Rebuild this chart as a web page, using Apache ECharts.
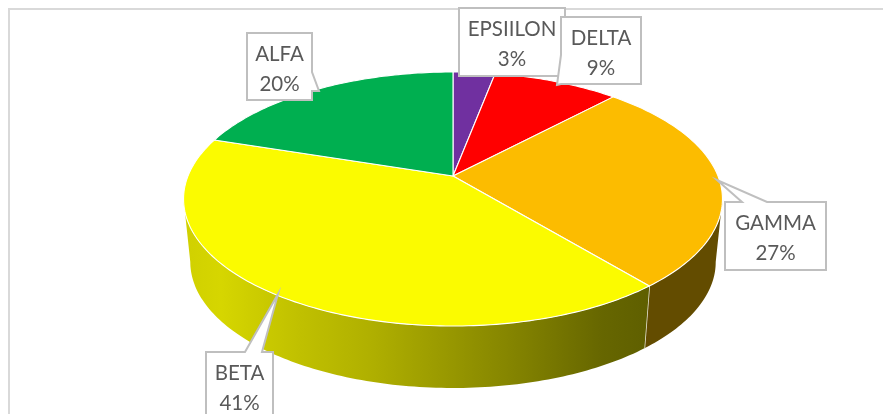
<!DOCTYPE html>
<html>
<head>
<meta charset="utf-8">
<style>html,body{margin:0;padding:0;background:#fff}#c{width:883px;height:414px}</style>
<script src="https://cdn.jsdelivr.net/npm/echarts@6/dist/echarts.min.js"></script>
</head>
<body>
<div id="c"></div>
<script>
var categories = ['EPSIILON', 'DELTA', 'GAMMA', 'BETA', 'ALFA'];
var percentages = [3, 9, 27, 41, 20];
var sliceColors = ['#7030A0', '#FF0000', '#FCBC00', '#FBFB00', '#00AF50'];

// Label boxes [left, top, right, bottom] and callouts [tipX, tipY, baseX1, baseY1, baseX2, baseY2]
var labelBoxes = [[459, 8, 565, 76], [561, 17, 641, 84], [725, 202, 826, 270], [206, 352, 273, 420], [247, 33, 312, 100]];
var callouts = [null, [557, 85, 561, 55, 561, 84], [717, 180, 742, 202, 767, 202], [278, 294, 245, 352, 262, 352], [319, 91, 312, 72, 312, 91]];

var total = percentages.reduce(function (a, b) { return a + b; }, 0);
var starts = [], run = 0;
percentages.forEach(function (p) { starts.push(run); run += p; });

// Perspective projection of the pie's circle to the screen
var CX = 453, K = -0.181, A = 91, B = 176, D = 265;
function topPt(deg) {
  var r = deg * Math.PI / 180, u = Math.sin(r), v = -Math.cos(r), w = 1 + K * v;
  return [CX + D * u / w, (A * v + B) / w];
}
function bottomPt(deg) {
  var p = topPt(deg);
  return [CX + (p[0] - CX) * 0.975, 262 + (p[1] - 199) * 0.992];
}
function arc(fn, a, b) {
  var pts = [], n = Math.max(2, Math.ceil(Math.abs(b - a)));
  for (var i = 0; i <= n; i++) pts.push(fn(a + (b - a) * i / n));
  return pts;
}
var FRONT_A = 100.4, FRONT_B = 259.6;

var sideFills = [
  null, null, '#634C00',
  new echarts.graphic.LinearGradient(1, 0, 0, 0, [
    { offset: 0, color: '#5F5F00' },
    { offset: 0.1, color: '#666600' },
    { offset: 0.3, color: '#858500' },
    { offset: 0.6, color: '#B0B000' },
    { offset: 0.75, color: '#C0C000' },
    { offset: 0.92, color: '#D6D600' },
    { offset: 1, color: '#D0D000' }
  ]),
  null
];

function renderSide(params) {
  var i = params.dataIndex;
  var a = starts[i] / total * 360, b = (starts[i] + percentages[i]) / total * 360;
  var s = Math.max(a, FRONT_A), e = Math.min(b, FRONT_B);
  if (s >= e) return { type: 'group', children: [] };
  var pts = arc(topPt, s, e).concat(arc(bottomPt, e, s));
  var children = [{ type: 'polygon', shape: { points: pts }, style: { fill: sideFills[i], stroke: 'none' } }];
  if (b < FRONT_B) {
    children.push({ type: 'line', shape: { x1: topPt(b)[0], y1: topPt(b)[1], x2: bottomPt(b)[0], y2: bottomPt(b)[1] },
      style: { stroke: '#E8E8DC', lineWidth: 1.5 } });
  }
  return { type: 'group', children: children };
}
function renderTop(params) {
  var i = params.dataIndex;
  var a = starts[i] / total * 360, b = (starts[i] + percentages[i]) / total * 360;
  var pts = [[CX, B]].concat(arc(topPt, a, b));
  return { type: 'polygon', shape: { points: pts },
    style: { fill: sliceColors[i], stroke: '#FFFFFF', lineWidth: 1.1, lineJoin: 'round' } };
}
function renderLabel(params) {
  var i = params.dataIndex, bx = labelBoxes[i], c = callouts[i];
  var pts;
  if (!c) {
    pts = [[bx[0], bx[1]], [bx[2], bx[1]], [bx[2], bx[3]], [bx[0], bx[3]]];
  } else if (c[3] === bx[1]) { // callout from the top edge
    pts = [[bx[0], bx[1]], [c[2], c[3]], [c[0], c[1]], [c[4], c[5]], [bx[2], bx[1]], [bx[2], bx[3]], [bx[0], bx[3]]];
  } else if (c[2] === bx[2]) { // callout from the right edge
    pts = [[bx[0], bx[1]], [bx[2], bx[1]], [c[2], c[3]], [c[0], c[1]], [c[4], c[5]], [bx[2], bx[3]], [bx[0], bx[3]]];
  } else { // callout from the left edge
    pts = [[bx[0], bx[1]], [bx[2], bx[1]], [bx[2], bx[3]], [c[4], c[5]], [c[0], c[1]], [c[2], c[3]], [bx[0], bx[1]]];
  }
  var mx = (bx[0] + bx[2]) / 2;
  var font = '20.5px Lato, Carlito, sans-serif';
  return { type: 'group', children: [
    { type: 'polygon', shape: { points: pts }, style: { fill: '#FFFFFF', stroke: '#BFBFBF', lineWidth: 2, lineJoin: 'miter' } },
    { type: 'text', style: { x: mx, y: bx[1] + 21, text: categories[i], fill: '#595959', font: font, align: 'center', verticalAlign: 'middle' } },
    { type: 'text', style: { x: mx, y: bx[1] + 51, text: percentages[i] + '%', fill: '#595959', font: font, align: 'center', verticalAlign: 'middle' } }
  ] };
}

var chart = echarts.init(document.getElementById('c'), null, { renderer: 'canvas' });
var seriesData = categories.map(function (n, i) { return { name: n, value: percentages[i] }; });
chart.setOption({
  animation: false,
  backgroundColor: '#FFFFFF',
  graphic: [{ type: 'polyline', z: 0, shape: { points: [[9, 414], [9, 9], [883, 9]] }, style: { stroke: '#D9D9D9', lineWidth: 2, fill: 'none' } }],
  series: [
    { type: 'custom', coordinateSystem: 'none', renderItem: renderSide, data: seriesData, z: 2, silent: true },
    { type: 'custom', coordinateSystem: 'none', renderItem: renderTop, data: seriesData, z: 3, silent: true },
    { type: 'custom', coordinateSystem: 'none', renderItem: renderLabel, data: seriesData, z: 4, silent: true }
  ]
});
</script>
</body>
</html>
